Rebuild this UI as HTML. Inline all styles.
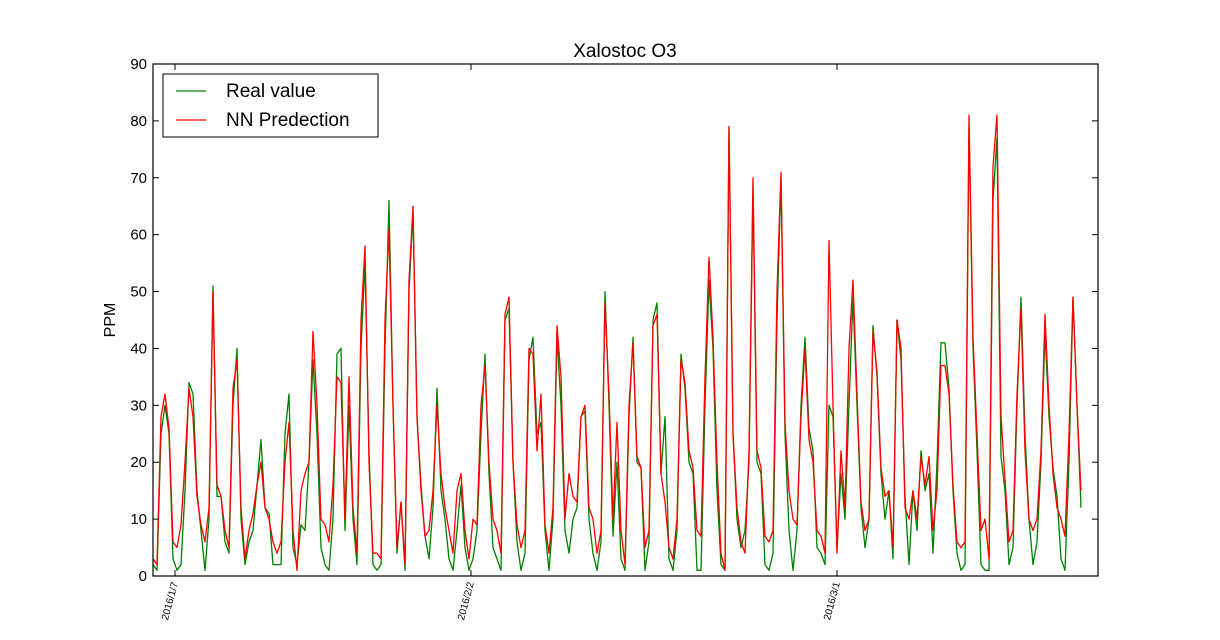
<!DOCTYPE html>
<html><head><meta charset="utf-8"><style>
body{margin:0;background:#fff;}
svg{display:block;font-family:"Liberation Sans","DejaVu Sans",sans-serif;}
</style></head><body>
<svg id="chart" width="1220" height="640"></svg>
<script>
const realValues=[2,1,25,30,25,3,1,2,15,34,32,15,8,1,10,51,14,14,6,4,30,40,10,2,6,8,16,24,12,11,2,2,2,25,32,5,2,9,8,20,38,25,5,2,1,10,39,40,8,30,10,2,40,55,22,2,1,2,40,66,30,4,13,1,50,64,28,16,7,3,12,33,15,10,3,1,8,16,5,1,3,8,25,39,18,5,3,1,45,47,20,6,1,4,38,42,25,27,8,1,10,42,30,8,4,10,12,28,29,10,4,1,6,50,30,7,20,3,1,28,42,20,19,1,6,45,48,18,28,3,1,8,39,33,20,18,1,1,30,52,40,15,2,1,79,25,10,5,8,20,68,20,18,2,1,4,45,70,25,8,1,8,30,42,26,22,5,4,2,30,28,5,18,10,30,49,30,12,5,10,44,35,18,10,15,3,45,38,14,2,15,8,22,15,18,4,20,41,41,33,15,4,1,2,79,40,22,2,1,1,66,77,21,15,2,5,30,49,25,10,2,6,20,43,28,19,14,3,1,20,49,30,12];
const predValues=[3,2,28,32,26,6,5,9,20,33,28,14,9,6,12,50,16,14,8,5,33,38,12,3,8,11,16,20,12,10,6,4,6,20,27,8,1,15,18,20,43,30,10,9,6,16,35,34,10,35,12,4,45,58,20,4,4,3,45,61,30,5,13,2,52,65,28,15,7,8,15,30,18,12,8,4,15,18,8,3,10,9,30,37,20,10,8,4,46,49,20,9,5,8,40,39,22,32,9,4,12,44,35,10,18,14,13,28,30,12,10,4,8,48,32,10,27,8,2,30,41,21,19,5,8,44,46,18,13,5,3,10,38,34,22,19,8,7,35,56,42,20,4,1,79,25,12,6,4,22,70,22,19,7,6,8,50,71,27,15,10,9,28,40,24,20,8,7,4,59,30,4,22,12,40,52,32,13,8,10,43,36,19,14,15,5,45,40,12,10,15,10,21,16,21,8,15,37,37,32,16,6,5,6,81,42,25,8,10,3,72,81,28,17,6,8,32,47,22,10,8,10,22,46,30,18,12,10,7,25,49,30,15];
const yTicks=[0,10,20,30,40,50,60,70,80,90];
const xTickIdx=[5.5,79.5,171];
const xTickLabels=["2016/1/7","2016/2/2","2016/3/1"];

const NS="http://www.w3.org/2000/svg";
const svg=document.getElementById('chart');
const L=153,R=1098,T=64,B=576;
const xMax=236.25;
function xs(i){return L+(R-L)*i/xMax;}
function ys(v){return B-(B-T)*v/90;}
function mk(tag,attrs,parent){const e=document.createElementNS(NS,tag);for(const k in attrs)e.setAttribute(k,attrs[k]);(parent||svg).appendChild(e);return e;}

// title
let t=mk('text',{x:625,y:57,'text-anchor':'middle','font-size':19});
t.textContent='Xalostoc O3';


t=mk('text',{x:0,y:0,'text-anchor':'middle','font-size':16,transform:'translate(115,320) rotate(-90)'});
t.textContent='PPM';



// series
function line(vals,color,name){
  let d='';vals.forEach((v,i)=>{d+=(i?'L':'M')+xs(i).toFixed(1)+','+ys(v).toFixed(1);});
  const p=mk('path',{d:d,fill:'none',stroke:color,'stroke-width':1.3,'stroke-linejoin':'round'});
  
  
}
line(realValues,'#008000','real-value-line');
line(predValues,'#ff0000','nn-prediction-line');

// frame
const fr=mk('rect',{x:L,y:T,width:R-L,height:B-T,fill:'none',stroke:'#000','stroke-width':1.2});



// y ticks
yTicks.forEach(v=>{
  const y=ys(v);
  mk('line',{x1:L,x2:L+6,y1:y,y2:y,stroke:'#000'});
  mk('line',{x1:R,x2:R-6,y1:y,y2:y,stroke:'#000'});
  const lb=mk('text',{x:L-6,y:y+5,'text-anchor':'end','font-size':15});
  lb.textContent=v;
  
  
});
// x ticks
xTickIdx.forEach((ix,k)=>{
  const x=xs(ix);
  mk('line',{x1:x,x2:x,y1:B,y2:B-6,stroke:'#000'});
  mk('line',{x1:x,x2:x,y1:T,y2:T+6,stroke:'#000'});
  const lb=mk('text',{x:0,y:0,'text-anchor':'end','font-size':10,transform:'translate('+(x+3)+','+(B+7)+') rotate(-75)'});
  lb.textContent=xTickLabels[k];
  
  
});

// legend
const lg=mk('g',{});


mk('rect',{x:163,y:74,width:215,height:63,fill:'#fff',stroke:'#000','stroke-width':1},lg);
[['Real value','#008000',91],['NN Predection','#ff0000',120]].forEach(([n,c,y])=>{
  const g=mk('g',{},lg);
  
  
  mk('line',{x1:176,x2:206,y1:y,y2:y,stroke:c,'stroke-width':1.3},g);
  const tx=mk('text',{x:226,y:y+6,'font-size':19},g);tx.textContent=n;
});
</script>
</body></html>
